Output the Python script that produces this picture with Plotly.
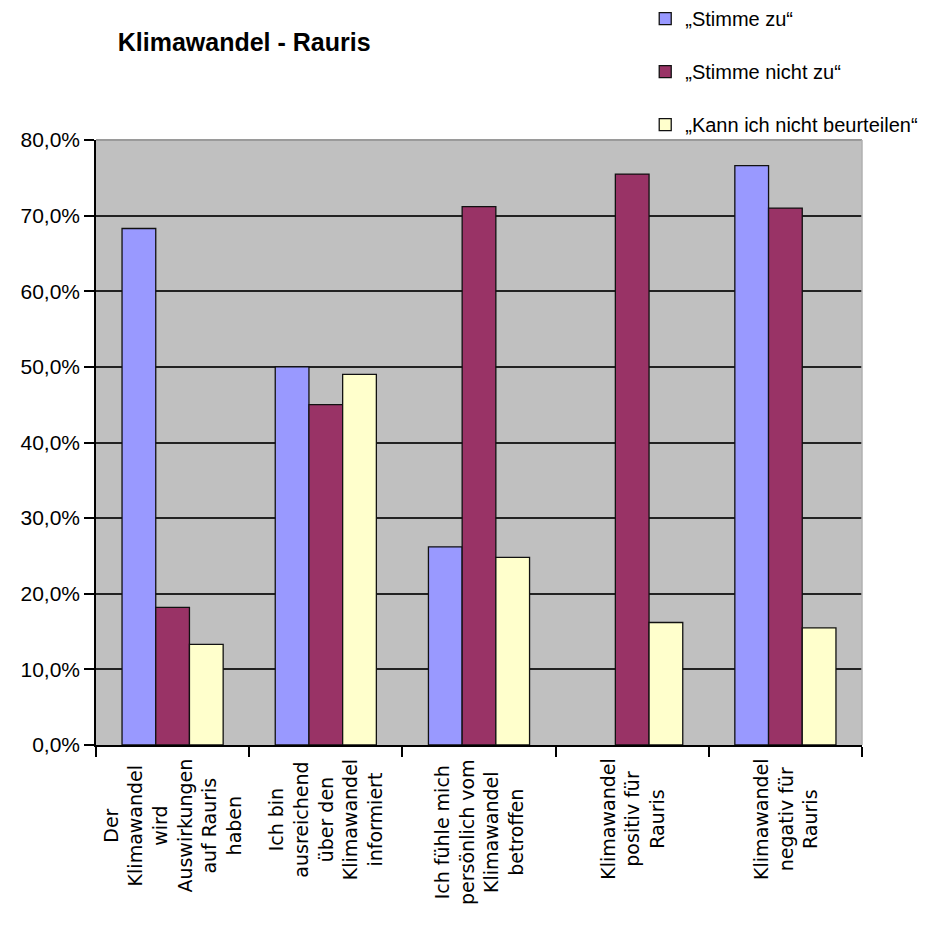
import plotly.graph_objects as go

kategorien = ["Der<br>Klimawandel<br>wird<br>Auswirkungen<br>auf Rauris<br>haben",
              "Ich bin<br>ausreichend<br>über den<br>Klimawandel<br>informiert",
              "Ich fühle mich<br>persönlich vom<br>Klimawandel<br>betroffen",
              "Klimawandel<br>positiv für<br>Rauris",
              "Klimawandel<br>negativ für<br>Rauris"]
serien = ["„Stimme zu“", "„Stimme nicht zu“", "„Kann ich nicht beurteilen“"]
stimme_zu = [0.683, 0.500, 0.262, None, 0.766]
stimme_nicht_zu = [0.182, 0.450, 0.712, 0.755, 0.710]
kann_nicht = [0.133, 0.490, 0.248, 0.162, 0.155]
farben = ["#9999FF", "#993366", "#FFFFCC"]
y_ticks = [0, 0.1, 0.2, 0.3, 0.4, 0.5, 0.6, 0.7, 0.8]

x_idx = ["k%d" % i for i in range(len(kategorien))]

fig = go.Figure()
for i, (name, werte) in enumerate(zip(serien, [stimme_zu, stimme_nicht_zu, kann_nicht])):
    fig.add_trace(go.Bar(x=x_idx, y=werte, name=name, legendgroup="g%d" % i,
                         marker=dict(color=farben[i], line=dict(color="#111111", width=1.3))))

# Kategorienbeschriftung senkrecht, zentriert
for xi, txt in zip(x_idx, kategorien):
    fig.add_annotation(x=xi, y=0, xref="x", yref="paper", text=txt, textangle=-90,
                       showarrow=False, yanchor="top", xanchor="center", yshift=-12,
                       align="center", font=dict(family="DejaVu Sans", size=19, color="black"))

fig.add_shape(type="line", xref="paper", yref="paper", x0=0, x1=1, y0=1, y1=1,
              line=dict(color="#9a9a9a", width=2))
fig.add_shape(type="line", xref="paper", yref="paper", x0=1, x1=1, y0=0, y1=1,
              line=dict(color="#b0b0b0", width=1.5))

# Seite hat 8px Rand -> alles um 8px nach links/oben
fig.update_layout(
    width=930, height=950,
    margin=dict(l=88, r=76, t=132, b=213, autoexpand=False),
    paper_bgcolor="white", plot_bgcolor="#C0C0C0",
    separators=",.",
    barmode="group", bargap=0.34, bargroupgap=0,
    font=dict(family="Liberation Sans, Arial", color="black"),
    title=dict(text="<b>Klimawandel - Rauris</b>", x=0.118, xanchor="left",
               y=0.964, yanchor="middle", font=dict(size=25, color="black")),
    legend=dict(x=0.717, xanchor="left", y=1.233, yanchor="top",
                font=dict(size=20, color="black"), tracegroupgap=24,
                bgcolor="rgba(0,0,0,0)"),
    showlegend=True,
)
fig.update_yaxes(range=[0, 0.8], tickvals=y_ticks, tickformat=".1%",
                 showgrid=True, gridcolor="#222222", gridwidth=1.8,
                 showline=True, linecolor="black", linewidth=1.5,
                 ticks="outside", ticklen=10, tickcolor="black", tickwidth=1.5,
                 tickfont=dict(size=21), zeroline=False)
fig.update_xaxes(showticklabels=False, showline=True, linecolor="black", linewidth=1.5,
                 ticks="outside", tickson="boundaries", ticklen=10, tickcolor="black",
                 tickwidth=1.5, showgrid=False)

fig.write_html("out.html")
